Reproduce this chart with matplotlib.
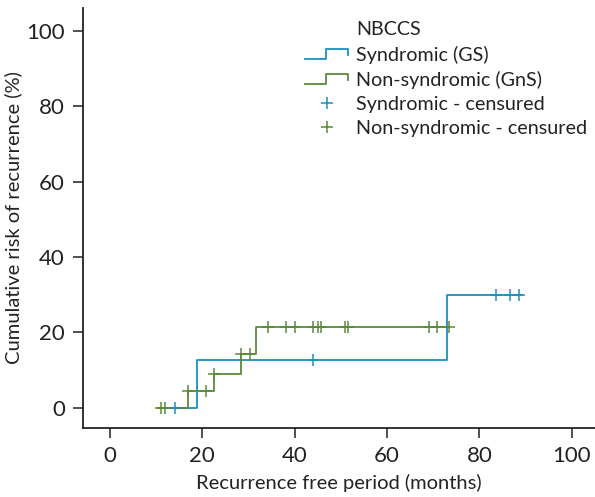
import matplotlib
matplotlib.use("Agg")
import matplotlib.pyplot as plt
from matplotlib.lines import Line2D
from matplotlib.legend_handler import HandlerBase

plt.rcParams['font.family'] = ['Lato', 'DejaVu Sans']

BLUE = "#1a8fc3"
GREEN = "#5b8a3a"
INK = "#222222"

# Syndromic (GS) step curve
gs_times = [11.0, 18.8, 72.9, 89.1]
gs_risk = [0.0, 12.6, 30.0, 30.0]
gs_cens_t = [14.1, 44.0, 83.5, 86.6, 88.5]
gs_cens_r = [0.0, 12.6, 30.0, 30.0, 30.0]

# Non-syndromic (GnS) step curve
gns_times = [10.4, 17.0, 22.6, 28.5, 31.6, 73.5]
gns_risk = [0.0, 4.4, 9.0, 14.4, 21.5, 21.5]
gns_cens_t = [11.0, 12.0, 17.0, 20.8, 22.6, 28.5, 30.3, 34.3, 38.1, 40.0,
              44.0, 45.0, 45.8, 50.9, 51.6, 69.1, 70.9, 73.5]
gns_cens_r = [0.0, 0.0, 4.4, 4.4, 9.0, 14.4, 14.4, 21.5, 21.5, 21.5,
              21.5, 21.5, 21.5, 21.5, 21.5, 21.5, 21.5, 21.5]

xticks = [0, 20, 40, 60, 80, 100]
yticks = [0, 20, 40, 60, 80, 100]
legend_title = 'NBCCS'
legend_labels = ['Syndromic (GS)', 'Non-syndromic (GnS)', 'Syndromic - censured',
                 'Non-syndromic - censured']


class StepHandler(HandlerBase):
    def create_artists(self, legend, orig_handle, xdescent, ydescent,
                       width, height, fontsize, trans):
        x0 = -xdescent
        y0 = -ydescent
        xs = [x0, x0 + 0.48 * width, x0 + 0.48 * width, x0 + width, x0 + width]
        ys = [y0 + 0.1 * height, y0 + 0.1 * height, y0 + 0.85 * height,
              y0 + 0.85 * height, y0 + 0.4 * height]
        ln = Line2D(xs, ys, color=orig_handle.get_color(),
                    lw=orig_handle.get_linewidth(), transform=trans)
        return [ln]


fig = plt.figure(figsize=(5.95, 4.97), dpi=100)
ax = fig.add_axes([0.1395, 0.139, 0.8605, 0.845])

l1, = ax.step(gs_times, gs_risk, where='post', color=BLUE, lw=1.3)
l2, = ax.step(gns_times, gns_risk, where='post', color=GREEN, lw=1.3)
m1, = ax.plot(gs_cens_t, gs_cens_r, ls='none', marker='+', ms=9, mew=1.1, color=BLUE)
m2, = ax.plot(gns_cens_t, gns_cens_r, ls='none', marker='+', ms=9, mew=1.1, color=GREEN)

ax.set_xlim(-5.8, 105)
ax.set_ylim(-5.3, 106)
ax.set_xticks(xticks)
ax.set_yticks(yticks)
ax.spines['top'].set_visible(False)
ax.spines['right'].set_visible(False)
for s in ['left', 'bottom']:
    ax.spines[s].set_color(INK)
    ax.spines[s].set_linewidth(1.3)
ax.tick_params(axis='both', labelsize=16, length=7, width=1.1, color=INK,
               labelcolor=INK, pad=6)
ax.set_xlabel('Recurrence free period (months)', fontsize=14.5, color=INK, labelpad=6)
ax.set_ylabel('Cumulative risk of recurrence (%)', fontsize=14.5, color=INK, labelpad=3)

dummy = Line2D([], [], ls='none', marker=None)
leg = ax.legend([dummy, l1, l2, m1, m2], [legend_title] + legend_labels,
                handler_map={l1: StepHandler(), l2: StepHandler()},
                loc='upper left', bbox_to_anchor=(0.4336, 0.968),
                frameon=False, fontsize=14.2,
                handlelength=2.2, handletextpad=0.4, labelspacing=0.36,
                borderaxespad=0.0, borderpad=0.0)
for t in leg.get_texts():
    t.set_color(INK)

fig.savefig('out.png', dpi=100)
